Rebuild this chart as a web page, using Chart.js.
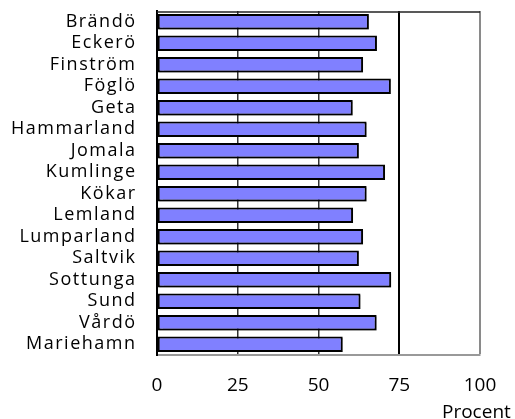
<!DOCTYPE html>
<html lang="sv">
<head>
<meta charset="UTF-8">
<title>Procent per kommun</title>
<script src="https://cdn.jsdelivr.net/npm/chart.js"></script>
<style>
    body { margin: 0; background: #fff; }
    #wrap { width: 515px; height: 419px; }
</style>
</head>
<body>
<div id="wrap"><canvas id="chart" width="515" height="419"></canvas></div>
<script>
// kommuner och värden (procent)
const kommuner = ['Brändö', 'Eckerö', 'Finström', 'Föglö', 'Geta', 'Hammarland', 'Jomala', 'Kumlinge',
    'Kökar', 'Lemland', 'Lumparland', 'Saltvik', 'Sottunga', 'Sund', 'Vårdö', 'Mariehamn'];
const procent = [65.6, 68.1, 63.8, 72.4, 60.6, 64.9, 62.5, 70.6, 64.9, 60.7, 63.8, 62.5, 72.5, 63.0, 68.0, 57.5];
const xTicks = [0, 25, 50, 75, 100];
const axisTitle = 'Procent';

const FONT = "'Open Sans', sans-serif";

// spärra y-etiketterna lite, och rita ramen + axeltiteln
const extras = {
    id: 'extras',
    beforeDraw(chart) {
        const y = chart.scales.y;
        if (!y._spaced) {
            const orig = y.drawLabels;
            y.drawLabels = function (area) {
                const c = this.ctx;
                c.save();
                c.letterSpacing = '1.5px';
                orig.call(this, area);
                c.restore();
            };
            y._spaced = true;
        }
    },
    beforeDatasetsDraw(chart) {
        const a = chart.chartArea, c = chart.ctx;
        c.save();
        c.strokeStyle = '#222';
        c.lineWidth = 1.5;
        c.beginPath();
        c.moveTo(a.left, a.top + 1);
        c.lineTo(a.right, a.top + 1);
        c.stroke();
        c.restore();
    },
    afterDraw(chart) {
        const c = chart.ctx;
        c.save();
        c.font = '19px ' + FONT;
        c.fillStyle = '#000';
        c.textBaseline = 'middle';
        c.textAlign = 'left';
        c.fillText(axisTitle, 442, 413);
        c.restore();
    }
};

const shadow = {
    id: 'shadow',
    beforeDatasetDraw(chart) {
        const c = chart.ctx;
        c.save();
        c.shadowColor = 'rgba(0,0,0,0.35)';
        c.shadowOffsetX = 1.5;
        c.shadowOffsetY = 1.5;
        c.shadowBlur = 1;
    },
    afterDatasetDraw(chart) {
        chart.ctx.restore();
    }
};

function gridColor(ctx) {
    const v = ctx.tick ? ctx.tick.value : null;
    if (v === 0) return 'rgba(0,0,0,0)';
    if (v === 75) return '#000';
    if (v === 100) return '#8a8a8a';
    return '#333';
}

new Chart(document.getElementById('chart'), {
    type: 'bar',
    data: {
        labels: kommuner,
        datasets: [{
            data: procent,
            backgroundColor: '#8080ff',
            borderColor: '#000',
            borderWidth: 2,
            borderSkipped: false,
            categoryPercentage: 1,
            barPercentage: 0.72
        }]
    },
    options: {
        indexAxis: 'y',
        responsive: false,
        devicePixelRatio: 1,
        animation: false,
        layout: { padding: { top: 11, right: 35, left: 0, bottom: 0 } },
        plugins: { legend: { display: false }, tooltip: { enabled: false } },
        scales: {
            x: {
                min: 0,
                max: 100,
                afterBuildTicks(s) { s.ticks = xTicks.map(v => ({ value: v })); },
                afterFit(s) { s.height = 64; s.paddingLeft = 0; s.paddingRight = 0; },
                ticks: { color: '#000', padding: 19, font: { family: FONT, size: 19 } },
                grid: {
                    drawTicks: false,
                    color: gridColor,
                    lineWidth: ctx => (ctx.tick && (ctx.tick.value === 75 || ctx.tick.value === 100)) ? 2 : 1.5
                },
                border: { display: true, color: '#999', width: 2 }
            },
            y: {
                afterFit(s) { s.width = 157; s.paddingTop = 0; s.paddingBottom = 0; },
                ticks: { color: '#000', padding: 20.5, autoSkip: false, font: { family: FONT, size: 18 } },
                grid: { display: false, drawTicks: false },
                border: { display: true, color: '#000', width: 2 }
            }
        }
    },
    plugins: [extras, shadow]
});
</script>
</body>
</html>
